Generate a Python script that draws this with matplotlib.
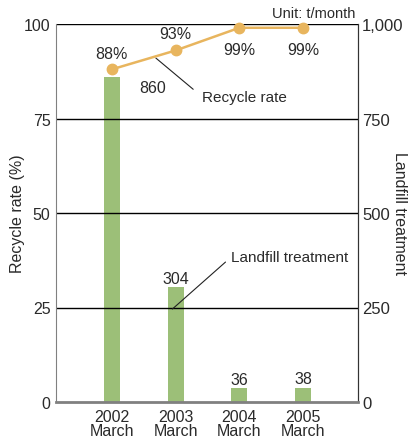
import matplotlib
matplotlib.use("Agg")
from matplotlib import pyplot as plt

years = ["2002\nMarch", "2003\nMarch", "2004\nMarch", "2005\nMarch"]
landfill = [860, 304, 36, 38]
recycle_rate = [88, 93, 99, 99]
left_ticks = [0, 25, 50, 75, 100]
right_ticks = ["0", "250", "500", "750", "1,000"]

bar_color = "#9cbf78"
line_color = "#e8b55e"
txt = "#2a2a2a"

plt.rcParams["font.family"] = ["Liberation Sans", "DejaVu Sans"]
plt.rcParams["font.size"] = 10

fig = plt.figure(figsize=(4.16, 4.39), dpi=100)
ax = fig.add_axes([56 / 416, 36 / 439, 302 / 416, 378 / 439])
ax2 = ax.twinx()

x = list(range(len(years)))

# landfill bars on the right axis
ax2.bar(x, landfill, width=0.25, color=bar_color, zorder=2)
ax2.set_ylim(0, 1000)
ax2.set_yticks([0, 250, 500, 750, 1000])
ax2.set_yticklabels(right_ticks)

# recycle rate line on the left axis, drawn on top
ax.set_zorder(ax2.get_zorder() + 1)
ax.patch.set_visible(False)
ax.plot(x, recycle_rate, color=line_color, lw=1.8, marker="o", ms=7.5,
        zorder=4, clip_on=False)
ax.set_ylim(0, 100)
ax.set_yticks(left_ticks)
ax.set_xlim(-0.875, 3.86)
ax.set_xticks(x)
ax.set_xticklabels(years, linespacing=0.9)

for yv in [25, 50, 75, 100]:
    ax.axhline(yv, color="black", lw=1, zorder=1)

for a in (ax, ax2):
    a.tick_params(length=0, labelsize=11.5, colors=txt)
    a.spines["top"].set_visible(False)
ax.tick_params(axis="y", pad=4)
ax2.tick_params(axis="y", pad=3, labelsize=12)
ax.tick_params(axis="x", pad=5)
ax.spines["left"].set_color("#808080")
ax.spines["right"].set_color("#333333")
ax.spines["bottom"].set_color("#808080")
ax.spines["bottom"].set_linewidth(2)
ax2.spines["left"].set_visible(False)
ax2.spines["bottom"].set_visible(False)
ax2.spines["right"].set_color("#333333")

# value labels
rate_offsets = [(0, 6, "bottom"), (0, 6.5, "bottom"), (0, -10.5, "top"), (0, -10.5, "top")]
for i, (v, off) in enumerate(zip(recycle_rate, rate_offsets)):
    ax.annotate(f"{v}%", (i, v), xytext=(off[0], off[1]), textcoords="offset points",
                ha="center", va=off[2], fontsize=11.5, color=txt)

ax2.annotate(f"{landfill[0]}", (0, landfill[0]), xytext=(20, -2),
             textcoords="offset points", ha="left", va="top", fontsize=11.5,
             color=txt)
for i in range(1, len(landfill)):
    ax2.annotate(f"{landfill[i]}", (i, landfill[i]), xytext=(0, 1),
                 textcoords="offset points", ha="center", va="bottom",
                 fontsize=11.5, color=txt)

# callouts
ax.annotate("Recycle rate", xy=(0.69, 91.0), xytext=(1.42, 80.7),
            ha="left", va="center", fontsize=11, color=txt,
            arrowprops=dict(arrowstyle="-", color="#222222", lw=0.8,
                            shrinkA=6, shrinkB=0, relpos=(0, 0.5)))
ax.annotate("Landfill treatment", xy=(0.95, 24.6), xytext=(1.875, 38.4),
            ha="left", va="center", fontsize=11, color=txt,
            arrowprops=dict(arrowstyle="-", color="#222222", lw=0.8,
                            shrinkA=3, shrinkB=0, relpos=(0, 0.5)))

ax.set_ylabel("Recycle rate (%)", fontsize=11.5, color=txt, va="center")
ax.yaxis.set_label_coords(-0.129, 0.5)
ax2.set_ylabel("Landfill treatment", fontsize=11.5, rotation=270, color=txt,
               va="center")
ax2.yaxis.set_label_coords(1.139, 0.5)
fig.text(355 / 416, 1 - 14 / 439, "Unit: t/month", ha="right", va="center",
         fontsize=10.5, color=txt)

fig.savefig("out.png", dpi=100)
